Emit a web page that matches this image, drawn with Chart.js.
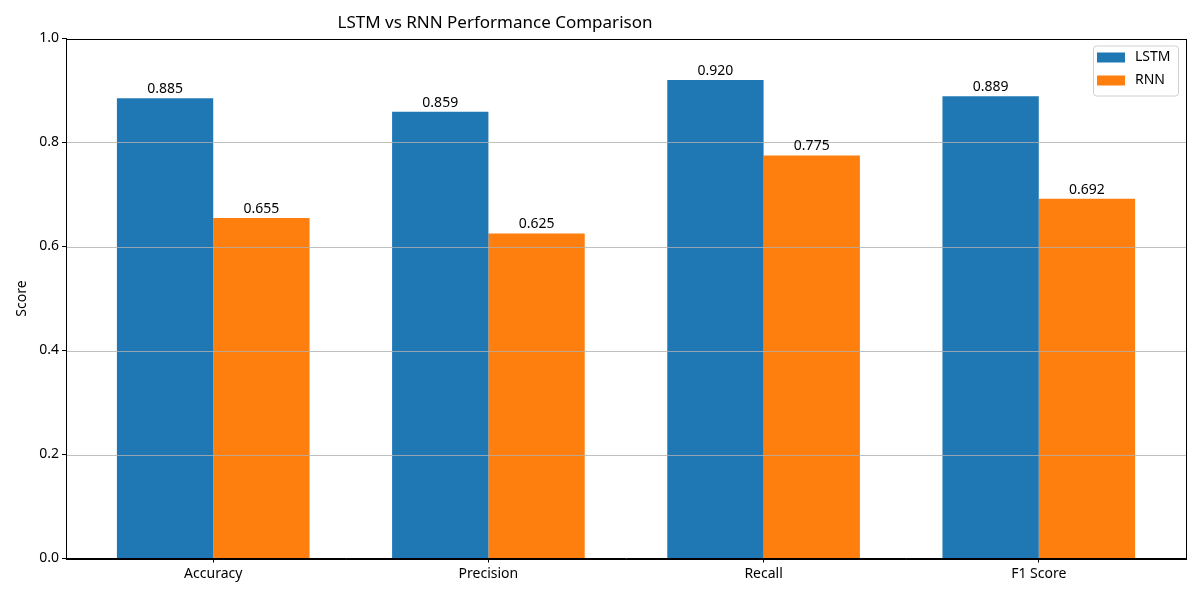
<!DOCTYPE html>
<html>
<head>
<meta charset="utf-8">
<script src="https://cdn.jsdelivr.net/npm/chart.js@4/dist/chart.umd.min.js"></script>
<style>
  html, body { margin: 0; padding: 0; background: #fff; }
  #wrap { width: 1200px; height: 600px; }
</style>
</head>
<body>
<div id="wrap"><canvas id="c" width="1200" height="600"></canvas></div>
<script>
// ── Data ─────────────────────────────────────────────
var categories = ['Accuracy', 'Precision', 'Recall', 'F1 Score'];
var lstmScores = [0.885, 0.859, 0.920, 0.889];
var rnnScores  = [0.655, 0.625, 0.775, 0.692];
var yTicks     = [0, 0.2, 0.4, 0.6, 0.8, 1.0];

var FONT = "'Noto Sans', 'DejaVu Sans', sans-serif";
var BAR_W = 0.35;                       // matplotlib bar width
var MARGIN = 0.05 * (categories.length - 1 + 2 * BAR_W);
var X_MIN = -BAR_W - MARGIN;
var X_MAX = categories.length - 1 + BAR_W + MARGIN;

function toPoints(arr) {
  return arr.map(function (v, i) { return { x: i, y: v }; });
}

// ── Plugins ──────────────────────────────────────────
// grid over bars + full frame
var frameGrid = {
  id: 'frameGrid',
  afterDatasetsDraw: function (chart) {
    var ctx = chart.ctx, a = chart.chartArea, ys = chart.scales.y;
    ctx.save();
    ctx.strokeStyle = '#b0b0b0';
    ctx.lineWidth = 0.8;
    yTicks.forEach(function (t) {
      if (t === 0 || t === 1) return;
      var py = Math.round(ys.getPixelForValue(t)) + 0.5;
      ctx.beginPath(); ctx.moveTo(a.left, py); ctx.lineTo(a.right, py); ctx.stroke();
    });
    ctx.strokeStyle = '#000';
    ctx.lineWidth = 1;
    ctx.strokeRect(Math.round(a.left) + 0.5, Math.round(a.top) + 0.5,
                   Math.round(a.right - a.left), Math.round(a.bottom - a.top));
    ctx.restore();
  }
};

// value labels above each bar
var barLabels = {
  id: 'barLabels',
  afterDatasetsDraw: function (chart) {
    var ctx = chart.ctx;
    ctx.save();
    ctx.font = '14px ' + FONT;
    ctx.fillStyle = '#000';
    ctx.textAlign = 'center';
    ctx.textBaseline = 'bottom';
    chart.data.datasets.forEach(function (ds, di) {
      chart.getDatasetMeta(di).data.forEach(function (bar, i) {
        ctx.fillText(ds.data[i].y.toFixed(3), bar.x, bar.y - 2);
      });
    });
    ctx.restore();
  }
};

// matplotlib-like legend box, upper right
var boxLegend = {
  id: 'boxLegend',
  afterDraw: function (chart) {
    var ctx = chart.ctx, a = chart.chartArea;
    var w = 85, h = 50, x = a.right - 8 - w, y = a.top + 7;
    ctx.save();
    ctx.fillStyle = 'rgba(255,255,255,0.8)';
    ctx.strokeStyle = '#d0d0d0';
    ctx.lineWidth = 1;
    ctx.beginPath();
    ctx.roundRect(x + 0.5, y + 0.5, w, h, 3);
    ctx.fill(); ctx.stroke();
    ctx.font = '14px ' + FONT;
    ctx.textBaseline = 'middle';
    chart.data.datasets.forEach(function (ds, i) {
      var cy = y + 12 + i * 23;
      ctx.fillStyle = ds.backgroundColor;
      ctx.fillRect(x + 4, cy - 5, 28, 10);
      ctx.fillStyle = '#000';
      ctx.fillText(ds.label, x + 42, cy);
    });
    ctx.restore();
  }
};

// title (sits left of centre in the reference)
var topTitle = {
  id: 'topTitle',
  afterDraw: function (chart) {
    var ctx = chart.ctx, a = chart.chartArea;
    ctx.save();
    ctx.font = '17px ' + FONT;
    ctx.fillStyle = '#000';
    ctx.textAlign = 'center';
    ctx.textBaseline = 'middle';
    ctx.fillText('LSTM vs RNN Performance Comparison', a.left + (a.right - a.left) * 0.383, 23);
    ctx.restore();
  }
};

// ── Chart ────────────────────────────────────────────
Chart.defaults.font.family = FONT;
Chart.defaults.color = '#000';

new Chart(document.getElementById('c'), {
  type: 'bar',
  data: {
    datasets: [
      { label: 'LSTM', data: toPoints(lstmScores), backgroundColor: '#1f77b4' },
      { label: 'RNN',  data: toPoints(rnnScores),  backgroundColor: '#ff7f0e' }
    ]
  },
  options: {
    responsive: false,
    animation: false,
    layout: { padding: { left: 0, top: 38.5, right: 14, bottom: 0 } },
    datasets: { bar: { categoryPercentage: 0.7, barPercentage: 1.0, borderWidth: 0, inflateAmount: 0 } },
    plugins: { legend: { display: false }, tooltip: { enabled: false }, title: { display: false } },
    scales: {
      x: {
        type: 'linear',
        min: X_MIN, max: X_MAX,
        offset: false,
        afterBuildTicks: function (s) {
          s.ticks = categories.map(function (c, i) { return { value: i }; });
        },
        afterFit: function (s) { s.height = 41.5; },
        grid: { offset: false, drawOnChartArea: false, drawTicks: true, tickLength: 4, tickColor: '#000' },
        border: { color: '#000' },
        ticks: {
          autoSkip: false, maxRotation: 0, padding: 3,
          font: { size: 14 },
          callback: function (v) { return categories[v]; }
        }
      },
      y: {
        min: 0, max: 1,
        afterBuildTicks: function (s) {
          s.ticks = yTicks.map(function (t) { return { value: t }; });
        },
        afterFit: function (s) { s.width = 66; },
        grid: { drawOnChartArea: false, drawTicks: true, tickLength: 4, tickColor: '#000' },
        border: { color: '#000' },
        ticks: {
          padding: 3, font: { size: 14 },
          callback: function (v) { return v.toFixed(1); }
        },
        title: { display: true, text: 'Score', font: { size: 14 }, padding: { top: 14, bottom: 0 } }
      }
    }
  },
  plugins: [frameGrid, barLabels, boxLegend, topTitle]
});
</script>
</body>
</html>
